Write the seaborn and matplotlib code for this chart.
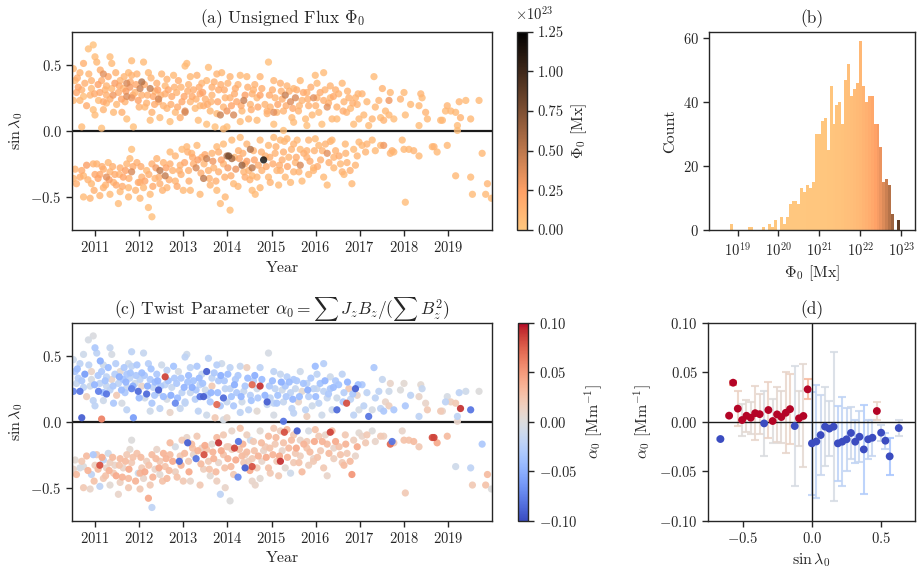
import numpy as np
import pandas as pd
import matplotlib
matplotlib.use('Agg')
import matplotlib.pyplot as plt
import matplotlib.colors as mcolors
import matplotlib.ticker as mticker
import seaborn as sns

# Active regions, northern hemisphere: year, sin(latitude), unsigned flux [1e22 Mx], twist [Mm^-1]
north_year = [
    2010.51, 2010.66, 2010.55, 2010.77, 2010.58, 2010.74, 2010.89, 2010.51, 2010.92, 2010.85,
    2010.96, 2011.00, 2010.74, 2010.70, 2010.96, 2010.81, 2010.62, 2010.92, 2010.66,
    2011.04, 2011.19, 2011.34, 2011.38, 2011.15, 2011.26, 2011.45, 2011.57, 2011.72, 2011.83,
    2011.76, 2011.95, 2012.06, 2011.11, 2011.26, 2011.38, 2011.53, 2011.64, 2011.79, 2011.91,
    2011.08, 2011.19, 2011.34, 2011.49, 2011.68, 2011.83, 2011.98, 2011.00, 2011.19, 2011.42,
    2011.61, 2011.72, 2011.87, 2011.15, 2012.02, 2011.72, 2011.26, 2011.83,
    2012.10, 2012.21, 2012.40, 2012.51, 2012.63, 2012.78, 2012.89, 2013.04, 2012.17, 2012.32,
    2012.44, 2012.59, 2012.59, 2012.74, 2012.85, 2012.97, 2012.13, 2012.29, 2012.47, 2012.63,
    2012.82, 2012.93, 2012.25, 2012.44, 2013.04, 2012.25, 2012.70, 2012.36, 2012.06,
    2013.08, 2013.16, 2013.31, 2013.42, 2013.53, 2013.57, 2013.76, 2013.87, 2013.23, 2013.38,
    2013.50, 2013.65, 2013.80, 2013.95, 2013.16, 2013.27, 2013.46, 2013.38, 2013.61, 2013.76,
    2013.91, 2013.34, 2013.53, 2013.72, 2013.91, 2013.04, 2013.84, 2013.99, 2013.12, 2013.65,
    2014.06, 2014.18, 2014.29, 2014.44, 2014.59, 2014.74, 2014.93, 2014.74, 2014.06, 2014.21,
    2014.37, 2014.52, 2014.67, 2014.90, 2014.97, 2014.14, 2014.33, 2014.48, 2014.67, 2014.90,
    2015.05, 2013.99, 2014.29, 2014.56,
    2015.05, 2015.20, 2015.35, 2015.50, 2015.65, 2015.80, 2015.99, 2015.08, 2015.24, 2015.31,
    2015.43, 2015.54, 2015.69, 2015.84, 2015.95, 2015.12, 2015.27, 2015.46, 2015.61, 2015.77,
    2015.92, 2015.05, 2015.50, 2015.80, 2015.27,
    2016.03, 2016.18, 2016.33, 2016.45, 2016.60, 2016.75, 2016.90, 2016.03, 2016.18, 2016.33,
    2016.48, 2016.64, 2016.79, 2016.94, 2016.07, 2016.26, 2016.37, 2016.48, 2016.70, 2016.86,
    2016.98, 2016.14,
    2017.05, 2017.16, 2017.32, 2017.43, 2017.51, 2017.58, 2017.66, 2017.69, 2017.09, 2017.28,
    2017.47, 2017.66, 2017.77, 2017.92, 2018.00, 2017.35, 2017.54, 2017.20,
    2018.15, 2018.34, 2018.38, 2018.41, 2018.49, 2018.53, 2018.34, 2018.87, 2018.98, 2018.94,
    2018.83, 2018.03,
    2019.06, 2019.17, 2019.25, 2019.28, 2019.40, 2019.51, 2019.70, 2019.21, 2019.21,
    # dense core of the northern wing
    2010.60, 2010.70, 2010.86, 2010.99, 2011.07, 2011.12, 2011.23, 2011.30, 2011.41, 2011.47,
    2011.55, 2011.60, 2011.66, 2011.70, 2011.80, 2011.86, 2011.93, 2012.00, 2012.12, 2012.19,
    2012.27, 2012.35, 2012.42, 2012.49, 2012.55, 2012.66, 2012.72, 2012.80, 2012.87, 2012.95,
    2013.02, 2013.10, 2013.20, 2013.29, 2013.36, 2013.44, 2013.55, 2013.63, 2013.70, 2013.78,
    2013.85, 2013.93, 2014.01, 2014.09, 2014.16, 2014.24, 2014.31, 2014.40, 2014.46, 2014.54,
    2014.62, 2014.69, 2014.78, 2014.85, 2014.95, 2015.02, 2015.14, 2015.22, 2015.33, 2015.40,
    2015.48, 2015.57, 2015.63, 2015.72, 2015.82, 2015.89, 2016.00, 2016.10, 2016.21, 2016.29,
    2016.40, 2016.52, 2016.62, 2016.72, 2016.84, 2016.96,
]
north_sinlat = [
    0.47, 0.44, 0.38, 0.36, 0.29, 0.26, 0.27, 0.23, 0.38, 0.62,
    0.65, 0.56, 0.51, 0.03, 0.16, 0.19, 0.33, 0.32, 0.23,
    0.52, 0.43, 0.56, 0.51, 0.38, 0.34, 0.36, 0.38, 0.36, 0.53,
    0.44, 0.43, 0.37, 0.29, 0.27, 0.32, 0.29, 0.32, 0.33, 0.29,
    0.23, 0.22, 0.24, 0.20, 0.22, 0.25, 0.23, 0.12, 0.16, 0.14,
    0.14, 0.09, 0.03, 0.02, 0.32, 0.26, 0.21, 0.42,
    0.52, 0.44, 0.36, 0.43, 0.39, 0.42, 0.38, 0.49, 0.21, 0.26,
    0.22, 0.34, 0.28, 0.26, 0.29, 0.22, 0.18, 0.14, 0.10, 0.17,
    0.14, 0.10, 0.32, 0.24, 0.15, 0.08, 0.07, 0.30, 0.27,
    0.51, 0.41, 0.42, 0.36, 0.38, 0.48, 0.43, 0.44, 0.31, 0.28,
    0.24, 0.27, 0.31, 0.25, 0.22, 0.17, 0.19, 0.19, 0.15, 0.13,
    0.18, 0.08, 0.05, 0.03, 0.015, 0.14, 0.12, 0.15, 0.35, 0.33,
    0.41, 0.32, 0.42, 0.41, 0.31, 0.41, 0.52, 0.27, 0.25, 0.22,
    0.23, 0.20, 0.25, 0.15, 0.18, 0.12, 0.15, 0.09, 0.08, 0.13,
    0.14, 0.03, 0.07, 0.28,
    0.38, 0.36, 0.34, 0.32, 0.38, 0.29, 0.42, 0.25, 0.24, 0.27,
    0.22, 0.25, 0.23, 0.19, 0.25, 0.14, 0.15, 0.10, 0.15, 0.09,
    0.12, 0.05, 0.065, 0.04, 0.003,
    0.36, 0.44, 0.34, 0.31, 0.36, 0.25, 0.25, 0.25, 0.23, 0.25,
    0.18, 0.22, 0.17, 0.20, 0.14, 0.18, 0.09, 0.09, 0.14, 0.05,
    0.09, 0.05,
    0.28, 0.22, 0.41, 0.23, 0.32, 0.15, 0.23, 0.29, 0.12, 0.09,
    0.10, 0.12, 0.09, 0.24, 0.29, 0.18, 0.08, 0.04,
    0.20, 0.19, 0.28, 0.25, 0.14, 0.09, 0.04, 0.08, 0.19, 0.15,
    0.08, 0.12,
    0.15, 0.14, 0.22, 0.10, 0.23, 0.09, 0.23, 0.04, 0.003,
    # dense core of the northern wing
    0.40, 0.31, 0.43, 0.28, 0.35, 0.46, 0.31, 0.41, 0.27, 0.44,
    0.34, 0.24, 0.41, 0.30, 0.37, 0.27, 0.35, 0.18, 0.35, 0.27,
    0.40, 0.20, 0.31, 0.27, 0.19, 0.31, 0.20, 0.33, 0.18, 0.33,
    0.26, 0.30, 0.26, 0.24, 0.33, 0.29, 0.20, 0.22, 0.37, 0.22,
    0.35, 0.31, 0.36, 0.19, 0.28, 0.35, 0.19, 0.27, 0.33, 0.16,
    0.35, 0.18, 0.32, 0.20, 0.27, 0.31, 0.20, 0.30, 0.19, 0.30,
    0.17, 0.31, 0.19, 0.29, 0.24, 0.33, 0.19, 0.29, 0.31, 0.21,
    0.26, 0.28, 0.15, 0.30, 0.21, 0.28,
]
north_flux = [
    1.0, 1.2, 0.8, 1.5, 2.0, 0.6, 1.1, 0.9, 1.3, 0.5,
    0.4, 0.7, 1.4, 0.8, 0.6, 1.8, 2.2, 0.9, 1.0,
    1.0, 3.5, 0.7, 0.9, 1.6, 1.2, 2.5, 1.1, 4.0, 0.8,
    1.0, 1.3, 5.5, 2.0, 1.4, 1.0, 1.7, 0.9, 2.8, 1.2,
    0.8, 1.9, 1.5, 1.0, 1.3, 3.2, 2.4, 0.7, 1.1, 0.9,
    1.4, 0.6, 0.5, 0.6, 4.5, 3.8, 1.0, 1.2,
    0.8, 1.0, 1.5, 1.1, 1.3, 0.9, 1.7, 0.7, 1.2, 2.1,
    1.4, 1.0, 1.6, 1.8, 1.2, 2.0, 0.9, 1.3, 0.8, 1.1,
    0.9, 1.5, 4.8, 4.2, 3.5, 0.7, 0.6, 1.0, 1.4,
    0.8, 1.0, 1.3, 1.1, 0.9, 0.7, 1.2, 1.0, 1.6, 2.0,
    1.4, 1.2, 1.8, 1.3, 1.1, 0.8, 1.5, 1.0, 1.0, 0.9,
    1.2, 0.7, 0.6, 0.5, 0.8, 4.0, 4.5, 3.0, 1.2, 1.5,
    1.2, 1.6, 0.9, 1.0, 1.3, 1.1, 0.6, 2.2, 1.4, 2.0,
    4.5, 1.2, 1.0, 1.5, 1.3, 4.0, 1.0, 1.1, 0.8, 1.2,
    3.5, 0.6, 0.7, 1.4,
    1.1, 1.4, 1.2, 1.0, 0.9, 1.3, 0.8, 1.2, 1.5, 4.5,
    3.8, 4.0, 1.1, 1.4, 3.5, 1.0, 1.2, 0.9, 1.3, 0.8,
    1.0, 0.6, 0.7, 0.6, 0.5,
    1.0, 0.8, 1.2, 1.4, 1.0, 1.3, 1.1, 1.2, 1.5, 1.0,
    1.3, 1.1, 0.9, 1.2, 0.9, 3.5, 1.0, 0.8, 1.1, 0.7,
    0.9, 0.6,
    1.2, 1.0, 0.8, 1.1, 1.3, 0.9, 3.0, 1.0, 0.9, 1.1,
    0.8, 1.0, 0.7, 1.2, 0.9, 1.0, 1.2, 0.8,
    0.9, 1.0, 1.1, 0.8, 1.2, 0.9, 0.7, 1.0, 1.1, 0.8,
    0.9, 0.7,
    1.0, 0.9, 1.1, 1.3, 0.8, 1.0, 0.9, 0.7, 0.6,
    # dense core of the northern wing
    1.6, 1.3, 1.1, 1.8, 2.4, 1.5, 1.2, 2.0, 3.0, 1.3,
    1.8, 2.2, 1.1, 2.6, 1.7, 1.4, 2.0, 1.2, 1.9, 1.5,
    1.1, 1.7, 2.3, 1.4, 1.2, 2.0, 1.6, 1.3, 1.8, 1.2,
    2.1, 1.5, 1.9, 1.3, 1.7, 2.4, 1.6, 1.2, 1.4, 2.0,
    1.5, 1.8, 1.3, 2.2, 1.6, 1.2, 1.9, 2.5, 1.4, 1.7,
    1.3, 2.0, 1.6, 1.2, 1.8, 1.5, 2.1, 1.4, 1.7, 1.3,
    2.0, 1.5, 1.2, 1.8, 1.4, 1.6, 1.3, 1.7, 1.2, 1.5,
    1.9, 1.3, 1.6, 1.2, 1.4, 1.1,
]
north_alpha = [
    -0.01, -0.02, -0.03, -0.06, -0.015, -0.02, -0.01, -0.07, 0.01, -0.005,
    -0.002, -0.03, -0.01, -0.09, -0.02, 0.015, -0.025, -0.005, -0.08,
    -0.02, -0.01, -0.015, -0.005, -0.03, -0.02, -0.025, 0.005, -0.03, -0.02,
    -0.01, -0.03, -0.04, -0.02, -0.015, 0.01, -0.02, -0.035, -0.02, -0.01,
    -0.075, -0.04, -0.02, 0.02, -0.03, -0.075, -0.085, -0.02, -0.01, -0.03,
    -0.005, -0.02, -0.06, 0.06, -0.02, -0.015, -0.08, -0.02,
    -0.015, -0.025, -0.03, -0.01, -0.02, -0.035, -0.005, -0.02, -0.085, -0.02,
    -0.01, 0.085, -0.02, -0.015, -0.03, -0.02, -0.01, -0.03, -0.02, -0.005,
    -0.07, -0.015, -0.03, -0.09, -0.02, -0.01, 0.01, -0.04, 0.01,
    -0.01, -0.02, -0.03, -0.015, -0.09, -0.02, -0.025, -0.01, -0.035, -0.02,
    -0.01, 0.02, -0.03, -0.02, -0.015, -0.025, -0.09, -0.08, -0.03, 0.07,
    -0.085, -0.02, -0.01, 0.02, -0.005, -0.02, -0.03, -0.015, -0.04, -0.02,
    -0.02, -0.03, -0.015, 0.015, -0.025, -0.02, -0.005, 0.09, -0.02, -0.03,
    -0.015, -0.025, -0.01, -0.09, -0.02, -0.03, -0.01, -0.02, 0.005, -0.015,
    -0.02, 0.01, -0.02, 0.07,
    -0.02, -0.015, -0.025, -0.03, -0.01, -0.02, -0.04, -0.02, -0.01, -0.03,
    -0.02, -0.015, 0.005, -0.025, -0.02, -0.03, -0.015, -0.02, 0.01, -0.02,
    -0.01, -0.005, -0.02, 0.015, -0.08,
    -0.02, -0.025, -0.01, -0.03, -0.02, 0.02, -0.09, -0.015, -0.02, -0.03,
    -0.01, -0.025, -0.02, 0.01, -0.02, -0.015, -0.01, -0.085, 0.08, -0.02,
    -0.005, -0.01,
    -0.03, -0.02, -0.03, -0.02, -0.015, 0.01, -0.01, 0.01, -0.02, -0.005,
    -0.02, 0.015, -0.03, 0.0, 0.005, -0.02, -0.03, -0.08,
    -0.02, 0.01, 0.005, -0.015, 0.01, 0.02, -0.02, 0.01, -0.005, -0.02,
    0.02, -0.03,
    0.015, 0.02, -0.02, 0.09, -0.01, -0.08, 0.0, -0.02, 0.01,
    # dense core of the northern wing
    -0.04, -0.03, -0.02, -0.045, -0.03, -0.05, -0.035, -0.04, -0.03, -0.025,
    -0.05, -0.04, -0.03, -0.045, -0.035, -0.05, -0.03, -0.04, -0.03, -0.05,
    -0.035, -0.03, -0.045, -0.03, -0.04, -0.035, -0.05, -0.03, -0.04, -0.03,
    -0.045, -0.035, -0.05, -0.03, -0.04, -0.035, -0.03, -0.045, -0.03, -0.04,
    -0.05, -0.03, -0.04, -0.035, -0.05, -0.03, -0.045, -0.03, -0.04, -0.035,
    -0.05, -0.03, -0.04, -0.045, -0.03, -0.04, -0.035, -0.05, -0.03, -0.04,
    -0.045, -0.03, -0.04, -0.035, -0.05, -0.03, -0.04, -0.035, -0.045, -0.03,
    -0.04, -0.035, -0.03, -0.045, -0.03, -0.04,
]

# Active regions, southern hemisphere
south_year = [
    2010.55, 2010.51, 2010.74, 2010.89, 2010.66, 2010.81, 2010.96, 2010.92, 2011.00, 2010.74,
    2011.04, 2011.19, 2011.26, 2011.34, 2011.11, 2011.42, 2011.30, 2011.57, 2011.72, 2011.79,
    2011.95, 2011.64, 2011.83, 2011.98, 2011.76, 2011.57, 2011.11, 2011.34, 2011.76, 2011.53,
    2011.83, 2012.02, 2011.19, 2011.45,
    2012.06, 2012.17, 2012.29, 2012.40, 2012.47, 2012.59, 2012.70, 2012.82, 2012.93, 2012.10,
    2012.25, 2012.47, 2012.63, 2012.82, 2013.00, 2012.21, 2012.29, 2012.02, 2012.55, 2012.91,
    2012.36, 2012.70, 2012.97,
    2013.08, 2013.19, 2013.31, 2013.42, 2013.53, 2013.65, 2013.76, 2013.91, 2013.10, 2013.12,
    2013.23, 2013.29, 2013.46, 2013.57, 2013.69, 2013.80, 2013.91, 2013.99, 2013.16, 2013.38,
    2013.61, 2013.76, 2013.95, 2014.06, 2013.84, 2013.47, 2013.80,
    2014.03, 2014.10, 2014.33, 2014.52, 2014.56, 2014.82, 2014.10, 2014.29, 2014.44, 2014.59,
    2014.74, 2014.93, 2014.25, 2014.37, 2014.40, 2014.48, 2014.67, 2014.78, 2014.93, 2014.14,
    2014.24, 2014.56, 2014.74, 2014.97, 2014.40, 2014.63, 2014.86, 2014.16, 2014.56,
    2015.05, 2015.20, 2015.35, 2015.50, 2015.65, 2015.84, 2015.99, 2015.08, 2015.24, 2015.39,
    2015.54, 2015.65, 2015.80, 2015.95, 2015.12, 2015.31, 2015.50, 2015.69, 2015.84, 2015.43,
    2015.16, 2015.80, 2015.20, 2015.29, 2015.58,
    2016.07, 2016.22, 2016.37, 2016.33, 2016.67, 2016.86, 2016.98, 2016.11, 2016.26, 2016.41,
    2016.56, 2016.71, 2016.90, 2016.18, 2016.41, 2016.60, 2016.64, 2016.82, 2016.26, 2015.95,
    2017.05, 2017.16, 2017.28, 2017.47, 2017.54, 2017.69, 2017.77, 2017.96, 2018.00, 2017.13,
    2017.35, 2018.03, 2017.73,
    2018.11, 2018.22, 2018.34, 2018.64, 2018.68, 2018.75, 2018.98,
    2019.17, 2019.51, 2019.55, 2019.77, 2019.85, 2019.89, 2019.98,
    # dense core of the southern wing
    2010.58, 2010.70, 2010.84, 2010.98, 2011.07, 2011.16, 2011.24, 2011.32, 2011.40, 2011.48,
    2011.55, 2011.62, 2011.69, 2011.77, 2011.86, 2011.92, 2012.04, 2012.13, 2012.22, 2012.31,
    2012.38, 2012.45, 2012.53, 2012.61, 2012.68, 2012.76, 2012.86, 2012.95, 2013.03, 2013.13,
    2013.21, 2013.33, 2013.40, 2013.49, 2013.59, 2013.67, 2013.74, 2013.86, 2013.94, 2014.01,
    2014.08, 2014.19, 2014.27, 2014.35, 2014.44, 2014.51, 2014.61, 2014.70, 2014.77, 2014.88,
    2014.96, 2015.03, 2015.10, 2015.18, 2015.27, 2015.36, 2015.45, 2015.56, 2015.62, 2015.73,
    2015.87, 2015.97, 2016.04, 2016.15, 2016.30, 2016.45, 2016.53, 2016.68, 2016.78, 2016.94,
]
south_sinlat = [
    -0.29, -0.36, -0.50, -0.51, -0.35, -0.26, -0.25, -0.40, -0.33, -0.34,
    -0.25, -0.29, -0.35, -0.31, -0.33, -0.39, -0.24, -0.28, -0.25, -0.21,
    -0.24, -0.35, -0.31, -0.39, -0.43, -0.46, -0.49, -0.48, -0.50, -0.55,
    -0.14, -0.39, -0.43, -0.33,
    -0.35, -0.30, -0.25, -0.21, -0.30, -0.34, -0.25, -0.19, -0.26, -0.43,
    -0.48, -0.40, -0.43, -0.38, -0.45, -0.58, -0.65, -0.51, -0.24, -0.30,
    -0.36, -0.16, -0.14,
    -0.12, -0.17, -0.11, -0.20, -0.21, -0.17, -0.12, -0.10, -0.16, -0.30,
    -0.25, -0.28, -0.36, -0.30, -0.28, -0.31, -0.25, -0.19, -0.45, -0.48,
    -0.41, -0.45, -0.50, -0.60, -0.55, -0.25, -0.16,
    -0.19, -0.21, -0.26, -0.14, -0.28, -0.22, -0.07, -0.05, -0.10, -0.15,
    -0.07, -0.11, -0.15, -0.31, -0.35, -0.30, -0.35, -0.30, -0.35, -0.40,
    -0.42, -0.45, -0.43, -0.39, -0.25, -0.48, -0.19, -0.20, -0.34,
    -0.05, -0.07, -0.06, -0.10, -0.14, -0.07, -0.06, -0.17, -0.22, -0.20,
    -0.24, -0.26, -0.20, -0.28, -0.30, -0.35, -0.31, -0.38, -0.33, -0.39,
    -0.41, -0.15, -0.30, -0.08, -0.07,
    -0.11, -0.10, -0.07, -0.08, -0.10, -0.14, -0.085, -0.22, -0.17, -0.20,
    -0.25, -0.24, -0.26, -0.35, -0.28, -0.31, -0.33, -0.40, -0.41, -0.30,
    -0.11, -0.10, -0.07, -0.11, -0.11, -0.17, -0.16, -0.07, -0.14, -0.16,
    -0.15, -0.54, -0.15,
    -0.14, -0.15, -0.19, -0.12, -0.12, -0.16, -0.11,
    -0.34, -0.35, -0.48, -0.17, -0.48, -0.40, -0.51,
    # dense core of the southern wing
    -0.40, -0.30, -0.37, -0.45, -0.36, -0.27, -0.41, -0.37, -0.27, -0.41,
    -0.33, -0.42, -0.30, -0.36, -0.27, -0.45, -0.27, -0.38, -0.33, -0.42,
    -0.28, -0.35, -0.45, -0.28, -0.37, -0.30, -0.42, -0.33, -0.24, -0.38,
    -0.20, -0.22, -0.32, -0.18, -0.36, -0.23, -0.38, -0.22, -0.35, -0.28,
    -0.34, -0.29, -0.21, -0.17, -0.23, -0.37, -0.22, -0.26, -0.16, -0.27,
    -0.20, -0.25, -0.12, -0.26, -0.16, -0.27, -0.14, -0.20, -0.31, -0.17,
    -0.23, -0.15, -0.27, -0.15, -0.24, -0.15, -0.19, -0.17, -0.30, -0.19,
]
south_flux = [
    1.2, 1.0, 0.8, 1.1, 1.5, 2.5, 1.3, 1.0, 2.0, 0.9,
    1.2, 1.4, 3.5, 1.1, 2.0, 1.3, 1.0, 1.6, 1.2, 0.9,
    1.5, 2.2, 4.0, 1.8, 1.0, 0.9, 1.1, 0.8, 1.0, 0.7,
    0.6, 1.2, 1.3, 1.7,
    1.4, 1.0, 1.6, 1.2, 5.0, 4.8, 1.5, 1.1, 1.3, 1.0,
    0.8, 1.4, 1.1, 1.2, 0.9, 0.7, 0.5, 1.0, 1.3, 1.5,
    1.1, 0.9, 0.8,
    1.0, 1.3, 0.9, 1.5, 4.5, 1.2, 1.0, 0.8, 1.4, 1.4,
    1.6, 4.0, 5.0, 1.3, 1.1, 1.5, 1.2, 5.5, 1.0, 0.9,
    1.1, 0.8, 1.0, 0.6, 0.8, 1.1, 1.5,
    8.0, 6.0, 6.5, 5.5, 5.0, 12.0, 0.9, 0.7, 1.1, 1.3,
    0.9, 1.0, 1.4, 1.2, 1.6, 1.2, 1.1, 1.3, 1.0, 0.9,
    1.0, 0.8, 1.0, 1.2, 1.3, 0.7, 1.4, 1.0, 1.0,
    0.8, 0.9, 1.0, 1.2, 0.9, 1.1, 0.8, 1.3, 1.5, 1.1,
    1.2, 4.0, 1.4, 1.0, 1.1, 0.9, 1.2, 0.8, 1.0, 0.9,
    0.8, 1.2, 1.2, 1.0, 0.9,
    1.0, 1.2, 0.9, 1.1, 1.0, 0.8, 1.0, 1.4, 3.5, 1.2,
    1.0, 1.3, 1.1, 0.9, 1.0, 1.2, 0.8, 1.0, 0.8, 1.1,
    1.0, 1.2, 0.9, 1.0, 3.0, 1.1, 0.9, 0.8, 1.0, 1.1,
    0.9, 0.7, 1.2,
    1.0, 1.1, 0.9, 1.0, 1.2, 0.9, 1.0,
    1.0, 0.9, 0.8, 1.0, 0.9, 1.1, 0.8,
    # dense core of the southern wing
    1.5, 1.8, 1.2, 1.4, 2.2, 1.6, 1.3, 2.6, 1.5, 1.9,
    1.2, 1.6, 2.4, 1.4, 1.8, 1.1, 1.7, 2.1, 1.4, 1.9,
    2.8, 1.5, 1.2, 2.2, 1.6, 1.3, 1.8, 1.4, 2.0, 1.5,
    1.8, 2.5, 1.6, 2.0, 1.3, 3.0, 1.5, 2.4, 1.4, 2.8,
    1.6, 3.2, 2.0, 1.5, 2.6, 1.3, 2.2, 1.7, 1.4, 1.9,
    1.5, 1.8, 1.3, 1.6, 1.4, 2.0, 1.2, 1.7, 1.3, 1.5,
    1.8, 1.3, 1.6, 1.2, 1.5, 1.3, 1.7, 1.2, 1.4, 1.1,
]
south_alpha = [
    0.005, 0.01, 0.02, 0.01, -0.005, 0.03, -0.03, -0.02, 0.015, 0.0,
    0.02, -0.02, 0.01, 0.015, 0.08, 0.02, -0.01, 0.03, 0.02, 0.005,
    0.025, 0.01, 0.02, -0.01, 0.03, 0.015, -0.02, 0.005, 0.02, 0.01,
    0.0, 0.035, 0.02, 0.01,
    0.02, 0.015, 0.03, 0.01, 0.02, 0.025, 0.03, -0.005, 0.02, 0.01,
    0.02, 0.005, 0.03, 0.015, 0.02, 0.04, -0.02, 0.02, 0.035, -0.085,
    0.01, 0.03, 0.02,
    0.01, 0.03, 0.02, 0.015, 0.025, 0.005, 0.03, 0.02, -0.09, 0.02,
    0.01, -0.08, 0.015, 0.02, 0.035, 0.01, 0.025, 0.02, 0.01, 0.02,
    0.005, 0.015, 0.01, 0.0, -0.02, 0.08, 0.09,
    0.02, 0.015, 0.03, -0.01, 0.02, 0.01, 0.01, 0.025, 0.015, 0.02,
    0.005, 0.03, -0.08, 0.02, -0.09, 0.015, 0.02, 0.01, 0.025, 0.02,
    -0.07, 0.01, 0.005, 0.02, 0.015, 0.01, 0.02, 0.085, 0.08,
    0.02, 0.015, 0.03, 0.02, 0.01, -0.005, 0.025, 0.02, 0.01, 0.03,
    0.02, 0.015, 0.025, 0.01, 0.02, 0.005, 0.02, 0.03, 0.015, -0.01,
    0.02, 0.02, 0.09, 0.08, -0.09,
    0.02, 0.01, 0.03, 0.085, 0.02, 0.015, 0.005, 0.02, 0.03, 0.01,
    0.025, 0.02, 0.01, 0.02, 0.015, 0.02, 0.03, 0.05, 0.01, 0.02,
    0.01, 0.02, 0.0, 0.02, 0.015, 0.07, 0.02, 0.01, 0.025, 0.02,
    0.01, 0.02, -0.08,
    0.025, 0.03, 0.02, 0.08, 0.085, 0.04, 0.03,
    -0.01, -0.02, 0.02, -0.03, 0.025, 0.03, 0.0,
    # dense core of the southern wing
    0.03, 0.02, 0.035, 0.025, 0.03, 0.04, 0.025, 0.035, 0.03, 0.04,
    0.025, 0.035, 0.03, 0.04, 0.025, 0.035, 0.03, 0.04, 0.025, 0.035,
    0.03, 0.04, 0.025, 0.035, 0.03, 0.04, 0.025, 0.035, 0.03, 0.04,
    0.025, 0.035, 0.03, 0.04, 0.025, 0.035, 0.03, 0.04, 0.025, 0.035,
    0.03, 0.04, 0.025, 0.035, 0.03, 0.04, 0.025, 0.035, 0.03, 0.04,
    0.025, 0.035, 0.03, 0.04, 0.025, 0.035, 0.03, 0.04, 0.025, 0.035,
    0.03, 0.04, 0.025, 0.035, 0.03, 0.04, 0.025, 0.035, 0.03, 0.04,
]

# Histogram of unsigned flux: log10 bin range and counts per bin
hist_log_range = (18.812, 22.974)
hist_counts = [
    2, 0, 0, 0, 0, 0, 1, 1, 0, 0,
    0, 1, 0, 2, 1, 3, 0, 4, 2, 4,
    8, 9, 9, 8, 13, 12, 14, 13, 15, 30,
    30, 34, 35, 25, 45, 33, 39, 40, 33, 47,
    52, 42, 44, 46, 59, 45, 40, 42, 42, 33,
    33, 26, 15, 16, 14, 5, 0, 3,
]

# Binned twist vs latitude
bin_sinlat = [-0.662, -0.599, -0.570, -0.536, -0.505, -0.473, -0.442, -0.410, -0.377, -0.345,
              -0.314, -0.283, -0.251, -0.220, -0.188, -0.157, -0.123, -0.092, -0.060, -0.029,
              0.002, 0.034, 0.065, 0.097, 0.128, 0.159, 0.190, 0.222, 0.253, 0.285,
              0.316, 0.347, 0.378, 0.410, 0.441, 0.473, 0.504, 0.535, 0.566, 0.632]
bin_alpha = [-0.0175, 0.0061, 0.0394, 0.0132, 0.0017, 0.0060, 0.0040, 0.0086, 0.0076, -0.0017,
             0.0118, 0.0007, 0.0074, 0.0047, 0.0090, 0.0127, -0.0044, 0.0034, 0.0058, 0.0327,
             -0.0219, -0.0200, -0.0135, -0.0050, -0.0070, -0.0050, -0.0219, -0.0202, -0.0178, -0.0114,
             -0.0202, -0.0152, -0.0280, -0.0178, -0.0162, 0.0108, -0.0111, -0.0192, -0.0350, -0.0064]
bin_err = [0.001, 0.001, 0.002, 0.0175, 0.016, 0.016, 0.016, 0.027, 0.020, 0.033,
           0.028, 0.022, 0.028, 0.026, 0.041, 0.035, 0.061, 0.028, 0.052, 0.010,
           0.052, 0.057, 0.040, 0.040, 0.028, 0.075, 0.038, 0.045, 0.032, 0.026,
           0.022, 0.026, 0.045, 0.020, 0.018, 0.009, 0.008, 0.008, 0.019, 0.0085]

sns.set_theme(style='ticks')
plt.rcParams.update({
    'font.family': 'serif',
    'font.serif': ['cmr10', 'DejaVu Serif'],
    'mathtext.fontset': 'cm',
    'axes.formatter.use_mathtext': True,
    'axes.unicode_minus': True,
    'font.size': 11,
    'axes.titlesize': 12.5,
    'axes.labelsize': 11.5,
    'xtick.labelsize': 10.5,
    'ytick.labelsize': 10.5,
    'axes.edgecolor': '0.15',
    'axes.linewidth': 1.0,
    'xtick.major.width': 1.0,
    'ytick.major.width': 1.0,
    'xtick.major.size': 4,
    'ytick.major.size': 4,
})

ar = pd.DataFrame({
    'year': north_year + south_year,
    'sinlat': north_sinlat + south_sinlat,
    'flux': np.array(north_flux + south_flux) * 1e22,
    'alpha': north_alpha + south_alpha,
})

fig = plt.figure(figsize=(9.2, 5.73), dpi=100)
ax_a = fig.add_axes([0.0783, 0.5986, 0.4568, 0.3461])
cax_a = fig.add_axes([0.5620, 0.5986, 0.0113, 0.3461])
ax_b = fig.add_axes([0.7707, 0.5986, 0.2242, 0.3461])
ax_c = fig.add_axes([0.0783, 0.0913, 0.4568, 0.3455])
cax_c = fig.add_axes([0.5630, 0.0913, 0.0113, 0.3455])
ax_d = fig.add_axes([0.7699, 0.0913, 0.2247, 0.3455])

# (a) flux scatter, darkest on top
flux_norm = mcolors.Normalize(vmin=0, vmax=1.25e23)
sns.scatterplot(data=ar.sort_values('flux'), x='year', y='sinlat', hue='flux',
                palette='copper_r', hue_norm=flux_norm, s=27, alpha=0.8,
                linewidth=0, legend=False, ax=ax_a)
ax_a.axhline(0, color='k', lw=1.6, zorder=0)
ax_a.set_xlim(2010.48, 2020.0)
ax_a.set_ylim(-0.75, 0.75)
ax_a.set_xticks(range(2011, 2020))
ax_a.set_yticks([-0.5, 0.0, 0.5])
ax_a.xaxis.get_major_formatter().set_useOffset(False)
ax_a.set_xlabel('Year')
ax_a.set_ylabel(r'$\sin\lambda_0$')
ax_a.set_title(r'(a) Unsigned Flux $\Phi_0$')
sm_a = plt.cm.ScalarMappable(norm=flux_norm, cmap='copper_r')
cb_a = fig.colorbar(sm_a, cax=cax_a)
cb_a.set_ticks([0, 0.25e23, 0.5e23, 0.75e23, 1.0e23, 1.25e23])
cb_a.set_ticklabels(['0.00', '0.25', '0.50', '0.75', '1.00', '1.25'])
cb_a.set_label(r'$\Phi_0$ [Mx]')
fig.text(0.5598, 0.966, r'$\times10^{23}$', ha='left', va='baseline', fontsize=10.5)

# (b) flux histogram, drawn in log10 space
edges = np.linspace(hist_log_range[0], hist_log_range[1], len(hist_counts) + 1)
hist_df = pd.DataFrame({'logflux': 0.5 * (edges[:-1] + edges[1:]), 'count': hist_counts})
sns.histplot(data=hist_df, x='logflux', weights='count', bins=len(hist_counts),
             binrange=hist_log_range, element='bars', linewidth=0, alpha=1, ax=ax_b)
cmap_cu = plt.get_cmap('copper_r')
for p in ax_b.patches:
    xc = p.get_x() + 0.5 * p.get_width()
    p.set_facecolor(cmap_cu(flux_norm(10 ** xc)))
    p.set_edgecolor('none')
ax_b.set_xlim(18.3, 23.35)
ax_b.set_xticks([19, 20, 21, 22, 23])
ax_b.set_xticklabels([r'$10^{%d}$' % k for k in range(19, 24)])
ax_b.set_yticks([0, 20, 40, 60])
ax_b.set_xlabel(r'$\Phi_0$ [Mx]')
ax_b.set_ylabel('Count')
ax_b.set_title('(b)')

# (c) twist scatter, strongest twist on top
alpha_norm = mcolors.Normalize(vmin=-0.1, vmax=0.1)
ar_c = ar.iloc[np.argsort(np.abs(ar['alpha'].to_numpy()), kind='stable')]
sns.scatterplot(data=ar_c, x='year', y='sinlat', hue='alpha',
                palette='coolwarm', hue_norm=alpha_norm, s=27, alpha=0.95,
                linewidth=0, legend=False, ax=ax_c)
ax_c.axhline(0, color='k', lw=1.6, zorder=0)
ax_c.set_xlim(2010.48, 2020.0)
ax_c.set_ylim(-0.75, 0.75)
ax_c.set_xticks(range(2011, 2020))
ax_c.set_yticks([-0.5, 0.0, 0.5])
ax_c.xaxis.get_major_formatter().set_useOffset(False)
ax_c.set_xlabel('Year')
ax_c.set_ylabel(r'$\sin\lambda_0$')
ax_c.set_title(r'(c) Twist Parameter $\alpha_0 = \sum\, J_z B_z / (\sum\, B_z^2)$')
sm_c = plt.cm.ScalarMappable(norm=alpha_norm, cmap='coolwarm')
cb_c = fig.colorbar(sm_c, cax=cax_c)
cb_c.set_ticks([-0.1, -0.05, 0.0, 0.05, 0.1])
cb_c.set_label(r'$\alpha_0$ [Mm$^{-1}$]')

# (d) binned twist
cw = plt.get_cmap('coolwarm')
for xv, m, e in zip(bin_sinlat, bin_alpha, bin_err):
    ax_d.errorbar(xv, m, yerr=e, fmt='none', ecolor=cw(alpha_norm(m)),
                  elinewidth=1.5, capsize=3, capthick=1.5, alpha=0.85, zorder=1)
ax_d.axhline(0, color='k', lw=1.0, zorder=2)
ax_d.axvline(0, color='k', lw=1.0, zorder=2)
bins_df = pd.DataFrame({'sinlat': bin_sinlat, 'alpha': bin_alpha})
sns.scatterplot(data=bins_df, x='sinlat', y='alpha', hue='alpha', palette='coolwarm',
                hue_norm=(-1e-4, 1e-4), s=32, linewidth=0, legend=False,
                ax=ax_d, zorder=3)
ax_d.set_xlim(-0.75, 0.75)
ax_d.set_ylim(-0.1, 0.1)
ax_d.set_xticks([-0.5, 0.0, 0.5])
ax_d.set_yticks([-0.1, -0.05, 0.0, 0.05, 0.1])
ax_d.yaxis.set_major_formatter(mticker.FormatStrFormatter(r'$%.2f$'))
ax_d.set_xlabel(r'$\sin\lambda_0$')
ax_d.set_ylabel(r'$\alpha_0$ [Mm$^{-1}$]')
ax_d.set_title('(d)')

fig.savefig('out.png', dpi=100)
